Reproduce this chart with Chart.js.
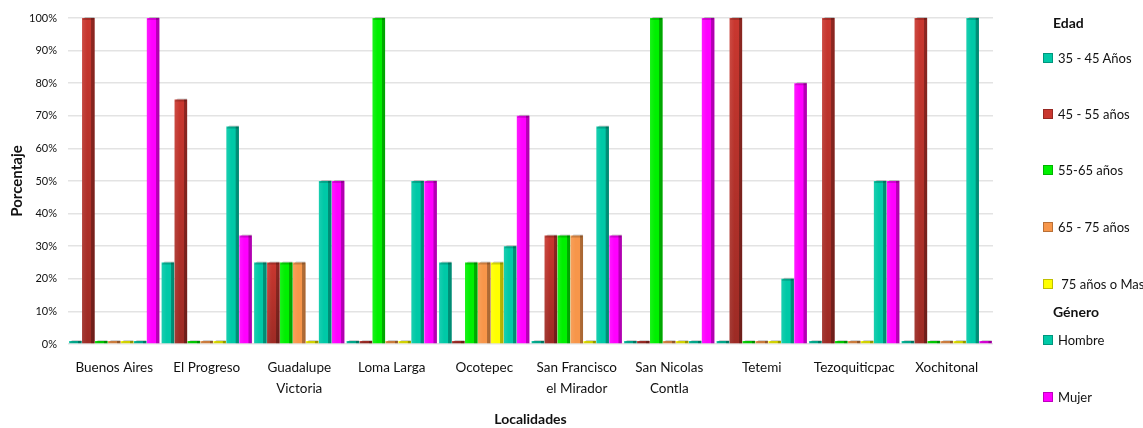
<!DOCTYPE html>
<html>
<head>
<meta charset="utf-8">
<script src="https://cdn.jsdelivr.net/npm/chart.js@4.4.1/dist/chart.umd.min.js"></script>
<style>
  body { margin: 0; background: #fff; font-family: Lato, "Open Sans", sans-serif; }
  #wrap { position: relative; width: 1143px; height: 428px; }
  #legend { position: absolute; left: 0; top: 0; width: 1143px; height: 428px; pointer-events: none; }
  .lg-item { position: absolute; left: 1043px; font-size: 13px; color: #111; line-height: 16px; white-space: nowrap; }
  .lg-item span.box { display: inline-block; width: 8px; height: 8px; margin-right: 5px; vertical-align: 0px; border: 1px solid rgba(0,0,0,0.25); }
  .lg-head { position: absolute; left: 1053px; font-size: 14px; font-weight: bold; color: #111; line-height: 16px; }
</style>
</head>
<body>
<div id="wrap">
  <canvas id="chart" width="1143" height="428"></canvas>
  <div id="legend"></div>
</div>
<script>
// Localidades
const categories = [
  'Buenos Aires', 'El Progreso', ['Guadalupe', 'Victoria'], 'Loma Larga', 'Ocotepec',
  ['San Francisco', 'el Mirador'], ['San Nicolas', 'Contla'], 'Tetemi', 'Tezoquiticpac', 'Xochitonal'
];

// Edad (porcentajes)
const edad35a45 = [0, 25, 25, 0, 25, 0, 0, 0, 0, 0];
const edad45a55 = [100, 75, 25, 0, 0, 33.3, 0, 100, 100, 100];
const edad55a65 = [0, 0, 25, 100, 25, 33.3, 100, 0, 0, 0];
const edad65a75 = [0, 0, 25, 0, 25, 33.3, 0, 0, 0, 0];
const edad75mas = [0, 0, 0, 0, 25, 0, 0, 0, 0, 0];

// Género (porcentajes)
const hombre = [0, 66.7, 50, 50, 30, 66.7, 0, 20, 50, 100];
const mujer = [100, 33.3, 50, 50, 70, 33.3, 100, 80, 50, 0];

const yTicks = [0, 10, 20, 30, 40, 50, 60, 70, 80, 90, 100];

const series = [
  { label: '35 - 45 Años', data: edad35a45, color: '#00c9a7', group: 'Edad' },
  { label: '45 - 55 años', data: edad45a55, color: '#c9372f', group: 'Edad' },
  { label: '55-65 años', data: edad55a65, color: '#00f000', group: 'Edad' },
  { label: '65 - 75 años', data: edad65a75, color: '#f7964a', group: 'Edad' },
  { label: ' 75 años o Mas', data: edad75mas, color: '#ffff00', group: 'Edad' },
  { label: 'Hombre', data: hombre, color: '#00c9a7', group: 'Género' },
  { label: 'Mujer', data: mujer, color: '#ff00ff', group: 'Género' },
];

// posiciones verticales de la leyenda (centro de cada fila)
const legendRows = [58, 114, 170, 227, 284, 340, 397];

// Efecto 3D: lado oscuro y tapa superior sobre cada barra
const bar3d = {
  id: 'bar3d',
  afterDatasetsDraw(chart) {
    const ctx = chart.ctx;
    chart.data.datasets.forEach((ds, di) => {
      const meta = chart.getDatasetMeta(di);
      meta.data.forEach((bar) => {
        const p = bar.getProps(['x', 'y', 'base', 'width'], true);
        const left = p.x - p.width / 2;
        const right = p.x + p.width / 2;
        const top = Math.min(p.y, p.base);
        const h = Math.abs(p.base - p.y);
        ctx.save();
        // luz a la izquierda
        const g = ctx.createLinearGradient(left, 0, right, 0);
        g.addColorStop(0, 'rgba(255,255,255,0.10)');
        g.addColorStop(0.4, 'rgba(255,255,255,0)');
        g.addColorStop(0.72, 'rgba(0,0,0,0)');
        g.addColorStop(0.74, 'rgba(0,0,0,0.28)');
        g.addColorStop(1, 'rgba(0,0,0,0.32)');
        ctx.fillStyle = g;
        ctx.fillRect(left, top, p.width, h);
        if (ds.label === '45 - 55 años') {
          const gv = ctx.createLinearGradient(0, top, 0, top + h);
          gv.addColorStop(0, 'rgba(0,0,0,0)');
          gv.addColorStop(1, 'rgba(0,0,0,0.22)');
          ctx.fillStyle = gv;
          ctx.fillRect(left, top, p.width, h);
        }
        // tapa
        ctx.fillStyle = 'rgba(0,0,0,0.18)';
        ctx.beginPath();
        ctx.moveTo(left, top + 2);
        ctx.lineTo(left + 3, top - 1);
        ctx.lineTo(right, top - 1);
        ctx.lineTo(right - 1, top + 2);
        ctx.closePath();
        ctx.fill();
        ctx.restore();
      });
    });
  }
};

const chart = new Chart(document.getElementById('chart'), {
  type: 'bar',
  data: {
    labels: categories,
    datasets: series.map((s) => ({
      label: s.label,
      data: s.data,
      backgroundColor: s.color,
      borderWidth: 0,
      minBarLength: 3,
      categoryPercentage: 0.98,
      barPercentage: 0.97,
    })),
  },
  options: {
    responsive: false,
    animation: false,
    layout: { padding: { top: 18, right: 150, left: 0, bottom: 0 } },
    plugins: {
      legend: { display: false },
      tooltip: { enabled: false },
    },
    scales: {
      x: {
        grid: { display: false, drawTicks: false },
        border: { display: false },
        ticks: {
          padding: 14,
          color: '#111',
          maxRotation: 0,
          autoSkip: false,
          font: { family: 'Lato', size: 13.5, lineHeight: 1.5 },
        },
        title: {
          display: true,
          text: 'Localidades',
          color: '#111',
          padding: { top: 0, bottom: 0 },
          font: { family: 'Lato', size: 14, weight: 'bold' },
        },
        afterFit: (scale) => { scale.width = scale.width; scale.height = 84; },
      },
      y: {
        min: 0,
        max: 100,
        afterBuildTicks: (scale) => { scale.ticks = yTicks.map((v) => ({ value: v })); },
        grid: { color: '#e3e3e3', lineWidth: 1.5, drawTicks: false },
        border: { display: false },
        ticks: {
          padding: 11,
          color: '#111',
          font: { family: 'Lato', size: 11 },
          callback: (v) => v + '%',
        },
        title: {
          display: true,
          text: 'Porcentaje',
          color: '#111',
          padding: { top: 8, bottom: 0 },
          font: { family: 'Lato', size: 15, weight: 'bold' },
        },
        afterFit: (scale) => { scale.width = 68; },
      },
    },
  },
  plugins: [bar3d],
});

// Leyenda agrupada (Edad / Género)
const legend = document.getElementById('legend');
const addHead = (text, y) => {
  const d = document.createElement('div');
  d.className = 'lg-head';
  d.style.top = (y - 8) + 'px';
  d.textContent = text;
  legend.appendChild(d);
};
addHead('Edad', 23);
series.forEach((s, i) => {
  if (s.label === 'Hombre') addHead('Género', 312);
  const d = document.createElement('div');
  d.className = 'lg-item';
  d.style.top = (legendRows[i] - 8) + 'px';
  const box = document.createElement('span');
  box.className = 'box';
  box.style.background = s.color;
  d.appendChild(box);
  d.appendChild(document.createTextNode(s.label));
  legend.appendChild(d);
});
</script>
</body>
</html>
